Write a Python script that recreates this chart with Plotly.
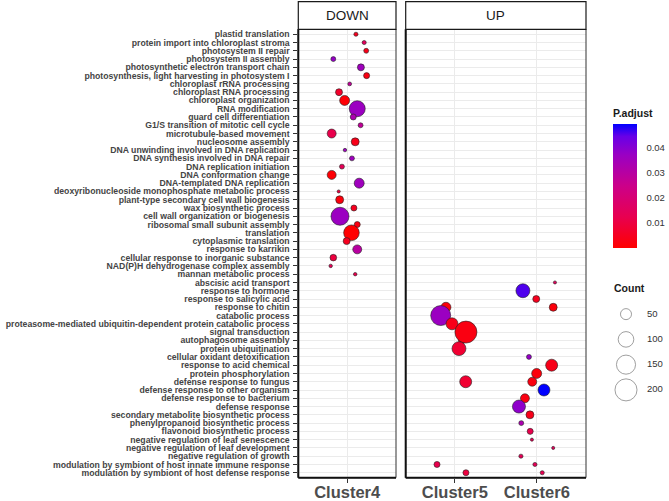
import numpy as np
import plotly.graph_objects as go

FONT = "Liberation Sans, Arial, sans-serif"

terms = [
    "plastid translation",
    "protein import into chloroplast stroma",
    "photosystem II repair",
    "photosystem II assembly",
    "photosynthetic electron transport chain",
    "photosynthesis, light harvesting in photosystem I",
    "chloroplast rRNA processing",
    "chloroplast RNA processing",
    "chloroplast organization",
    "RNA modification",
    "guard cell differentiation",
    "G1/S transition of mitotic cell cycle",
    "microtubule-based movement",
    "nucleosome assembly",
    "DNA unwinding involved in DNA replication",
    "DNA synthesis involved in DNA repair",
    "DNA replication initiation",
    "DNA conformation change",
    "DNA-templated DNA replication",
    "deoxyribonucleoside monophosphate metabolic process",
    "plant-type secondary cell wall biogenesis",
    "wax biosynthetic process",
    "cell wall organization or biogenesis",
    "ribosomal small subunit assembly",
    "translation",
    "cytoplasmic translation",
    "response to karrikin",
    "cellular response to inorganic substance",
    "NAD(P)H dehydrogenase complex assembly",
    "mannan metabolic process",
    "abscisic acid transport",
    "response to hormone",
    "response to salicylic acid",
    "response to chitin",
    "catabolic process",
    "proteasome-mediated ubiquitin-dependent protein catabolic process",
    "signal transduction",
    "autophagosome assembly",
    "protein ubiquitination",
    "cellular oxidant detoxification",
    "response to acid chemical",
    "protein phosphorylation",
    "defense response to fungus",
    "defense response to other organism",
    "defense response to bacterium",
    "defense response",
    "secondary metabolite biosynthetic process",
    "phenylpropanoid biosynthetic process",
    "flavonoid biosynthetic process",
    "negative regulation of leaf senescence",
    "negative regulation of leaf development",
    "negative regulation of growth",
    "modulation by symbiont of host innate immune response",
    "modulation by symbiont of host defense response",
]

down_clusters = ["Cluster4"]
up_clusters = ["Cluster5", "Cluster6"]

# DOWN panel (Cluster4): one point per term, terms 1..30
down_term_idx = list(range(30))
down_jitter = [0.108, 0.209, 0.234, -0.170, 0.169, 0.239, 0.031, -0.100, -0.031, 0.124,
               0.075, 0.165, -0.190, 0.099, -0.027, 0.059, -0.064, -0.190, 0.148, -0.104,
               -0.092, 0.083, -0.088, 0.124, 0.053, -0.006, 0.124, -0.170, -0.202, 0.099]
down_count = [7, 7, 10, 10, 20, 15, 6, 20, 41, 105,
              15, 10, 33, 26, 5, 10, 10, 33, 41, 4,
              26, 15, 133, 15, 100, 20, 33, 18, 5, 5]
down_padj = [0.005, 0.015, 0.004, 0.038, 0.036, 0.003, 0.028, 0.007, 0.001, 0.037,
             0.033, 0.028, 0.012, 0.004, 0.036, 0.036, 0.014, 0.001, 0.036, 0.010,
             0.002, 0.005, 0.037, 0.003, 0.0003, 0.005, 0.030, 0.010, 0.014, 0.012]

# UP panel (Cluster5 / Cluster6)
up_term_idx = [30, 31, 32, 33, 33, 34, 35, 37, 36, 38, 39, 40, 41, 42, 42, 43, 44, 45,
               46, 47, 48, 49, 50, 51, 52, 52, 53, 53]
up_cluster = ["Cluster6", "Cluster6", "Cluster6", "Cluster6", "Cluster5", "Cluster5", "Cluster5",
              "Cluster5", "Cluster5", "Cluster5", "Cluster6", "Cluster6", "Cluster6", "Cluster5",
              "Cluster6", "Cluster6", "Cluster6", "Cluster6", "Cluster6", "Cluster6", "Cluster6",
              "Cluster6", "Cluster6", "Cluster6", "Cluster5", "Cluster6", "Cluster5", "Cluster6"]
up_jitter = [0.221, -0.170, -0.007, 0.200, -0.109, -0.173, -0.035, 0.087, 0.135, 0.050,
             -0.096, 0.181, -0.002, 0.132, -0.056, 0.087, -0.145, -0.218, -0.084, -0.190,
             -0.081, -0.060, 0.200, -0.194, -0.218, -0.023, 0.135, 0.066]
up_count = [4, 80, 20, 26, 41, 164, 59, 20, 199, 80,
            10, 59, 41, 59, 33, 59, 33, 70, 26, 10,
            15, 4, 4, 7, 15, 7, 15, 7]
up_padj = [0.015, 0.046, 0.005, 0.002, 0.002, 0.037, 0.004, 0.004, 0.003, 0.008,
           0.038, 0.004, 0.002, 0.008, 0.003, 0.0497, 0.003, 0.039, 0.004, 0.033,
           0.012, 0.014, 0.015, 0.014, 0.012, 0.014, 0.010, 0.013]

legend_counts = [50, 100, 150, 200]
cbar_ticks = [0.01, 0.02, 0.03, 0.04]

# ggplot-like red -> blue (Lab) gradient
colorscale = [[0.0, "#FF0000"], [0.25, "#E80050"], [0.5, "#CC0089"],
              [0.75, "#9A00C3"], [0.9, "#6800E7"], [1.0, "#0000FF"]]

all_padj = down_padj + up_padj
cmin, cmax = min(all_padj), max(all_padj)
# plotly area mode: diameter = 2*sqrt(v/(2*sizeref)); target diameter = 1.56*sqrt(v)
SIZEREF = 2 / (1.56 ** 2)

n = len(terms)
ypos = {t: n - 1 - i for i, t in enumerate(terms)}

W, H = 669, 501
def px_x(p): return p / W
def px_y(p): return 1 - p / H

fig = go.Figure()

down_x = [down_clusters.index("Cluster4") + 1 + j for j in down_jitter]
down_y = [ypos[terms[i]] for i in down_term_idx]
fig.add_trace(go.Scatter(
    x=down_x, y=down_y, mode="markers", xaxis="x", yaxis="y", showlegend=False,
    text=[terms[i] for i in down_term_idx],
    marker=dict(size=down_count, sizemode="area", sizeref=SIZEREF, sizemin=1,
                color=down_padj, colorscale=colorscale, cmin=cmin, cmax=cmax,
                line=dict(color="#222222", width=0.6), opacity=1,
                showscale=True,
                colorbar=dict(
                    title=dict(text="<b>P.adjust</b>", side="top",
                               font=dict(family=FONT, size=10.5, color="#1A1A1A")),
                    thickness=24, thicknessmode="pixels",
                    len=141, lenmode="pixels",
                    x=px_x(613), xanchor="left", y=px_y(247.5), yanchor="bottom",
                    xpad=0, ypad=0, outlinewidth=0,
                    tickvals=cbar_ticks, ticktext=[f"{v:.2f}" for v in cbar_ticks],
                    ticks="outside", ticklen=8, tickcolor="rgba(0,0,0,0)",
                    tickfont=dict(family=FONT, size=9.5, color="#333333"),
                ))))

up_x = [up_clusters.index(c) + 1 + j for c, j in zip(up_cluster, up_jitter)]
up_y = [ypos[terms[i]] for i in up_term_idx]
fig.add_trace(go.Scatter(
    x=up_x, y=up_y, mode="markers", xaxis="x2", yaxis="y2", showlegend=False,
    text=[terms[i] for i in up_term_idx],
    marker=dict(size=up_count, sizemode="area", sizeref=SIZEREF, sizemin=1,
                color=up_padj, colorscale=colorscale, cmin=cmin, cmax=cmax,
                line=dict(color="#222222", width=0.6), opacity=1, showscale=False)))

# size legend
fig.add_trace(go.Scatter(
    x=[26] * len(legend_counts), y=list(range(1, len(legend_counts) + 1)),
    mode="markers", xaxis="x3", yaxis="y3", showlegend=False, hoverinfo="skip",
    marker=dict(size=legend_counts, sizemode="area", sizeref=SIZEREF,
                color="white", line=dict(color="#555555", width=0.8))))
fig.add_trace(go.Scatter(
    x=[47] * len(legend_counts), y=list(range(1, len(legend_counts) + 1)),
    mode="text", xaxis="x3", yaxis="y3", showlegend=False, hoverinfo="skip",
    text=[str(c) for c in legend_counts], textposition="middle right",
    textfont=dict(family=FONT, size=9.5, color="#333333")))

grid = dict(showgrid=True, gridcolor="#EBEBEB", gridwidth=1.3, zeroline=False, showline=False)
ydom = [px_y(477.7), px_y(29.3)]
yrange = [-0.6, n - 1 + 0.6]

xtick = dict(ticks="outside", ticklen=4, tickwidth=1.2, tickcolor="#333333",
             ticklabelstandoff=-5,
             tickfont=dict(family=FONT, size=16.5, color="#4D4D4D", weight="bold"))

fig.update_layout(
    width=W, height=H, margin=dict(l=0, r=0, t=0, b=0),
    paper_bgcolor="white", plot_bgcolor="white",
    xaxis=dict(domain=[px_x(298.3), px_x(396)], range=[0.4, 1.6], anchor="y",
               automargin=False,
               tickmode="array", tickvals=[1], ticktext=down_clusters, **grid, **xtick),
    xaxis2=dict(domain=[px_x(405.7), px_x(586)], range=[0.4, 2.6], anchor="y2",
                automargin=False,
                tickmode="array", tickvals=[1, 2], ticktext=up_clusters, **grid, **xtick),
    yaxis=dict(domain=ydom, range=yrange, anchor="x", automargin=False,
               tickmode="array", tickvals=[ypos[t] for t in terms], ticktext=terms,
               ticks="outside", ticklen=4, tickwidth=1.2, tickcolor="#333333",
               ticklabelstandoff=2,
               tickfont=dict(family=FONT, size=8.7, color="#444444", weight="bold"), **grid),
    yaxis2=dict(domain=ydom, range=yrange, anchor="x2", matches="y",
                tickmode="array", tickvals=[ypos[t] for t in terms],
                showticklabels=False, ticks="", **grid),
    xaxis3=dict(domain=[px_x(600), 1], range=[0, 69], visible=False, anchor="y3"),
    yaxis3=dict(domain=[px_y(402.5), px_y(301.5)], range=[4.5, 0.5], visible=False, anchor="x3"),
)

shapes = []
annotations = []
for xa, label in [("x", "DOWN"), ("x2", "UP")]:
    ya = "y" if xa == "x" else "y2"
    shapes.append(dict(type="rect", xref=f"{xa} domain", yref=f"{ya} domain",
                       x0=0, x1=1, y0=0, y1=1, line=dict(color="#333333", width=1)))
    shapes.append(dict(type="line", xref=f"{xa} domain", yref=f"{ya} domain",
                       x0=0, x1=0, y0=0, y1=1, line=dict(color="#111111", width=2)))
    shapes.append(dict(type="line", xref=f"{xa} domain", yref=f"{ya} domain",
                       x0=0, x1=1, y0=0, y1=0, line=dict(color="#111111", width=2)))
    shapes.append(dict(type="rect", xref=f"{xa} domain", yref="paper",
                       x0=0, x1=1, y0=px_y(29.3), y1=px_y(1.7),
                       fillcolor="white", line=dict(color="#1A1A1A", width=1.2)))
    annotations.append(dict(xref=f"{xa} domain", yref="paper", x=0.5, y=px_y(15.5),
                            text=label, showarrow=False, xanchor="center", yanchor="middle",
                            font=dict(family=FONT, size=13.5, color="#1A1A1A")))

annotations.append(dict(xref="paper", yref="paper", x=px_x(612), y=px_y(288),
                        text="<b>Count</b>", showarrow=False, xanchor="left", yanchor="middle",
                        font=dict(family=FONT, size=10.5, color="#1A1A1A")))

fig.update_layout(shapes=shapes, annotations=annotations)

fig.write_html("out.html")
